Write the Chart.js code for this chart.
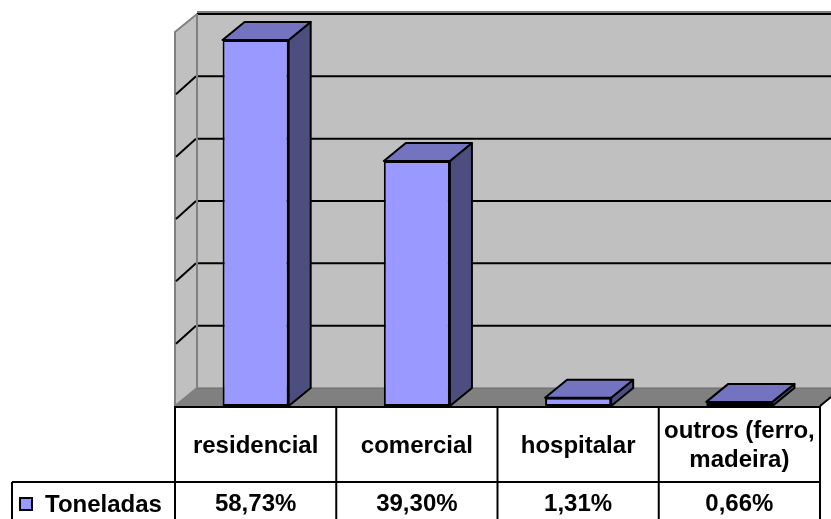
<!DOCTYPE html>
<html>
<head>
<meta charset="utf-8">
<script src="https://cdn.jsdelivr.net/npm/chart.js@4.4.1/dist/chart.umd.min.js"></script>
<style>
  html, body { margin: 0; padding: 0; background: #fff; }
  #wrap { width: 831px; height: 519px; }
</style>
</head>
<body>
<div id="wrap"><canvas id="myChart"></canvas></div>
<script>
// data
var categories = [["residencial"], ["comercial"], ["hospitalar"], ["outros (ferro,", "madeira)"]];
var toneladas = [58.73, 39.30, 1.31, 0.66];
var seriesName = "Toneladas";
var yMin = 0, yMax = 60, yStep = 10;

// 3d look
var depthX = 22, depthY = -18;
var barColor = "#9999ff", topColor = "#7373bf", sideColor = "#4d4d80";
var font = "bold 24px 'Liberation Sans', Arial, sans-serif";

function pct(v) {
    return v.toFixed(2).replace(".", ",") + "%";
}

var walls = {
    id: "walls",
    beforeDatasetsDraw: function (chart) {
        var ctx = chart.ctx, a = chart.chartArea, ys = chart.scales.y;
        var W = chart.width;
        var base = ys.getPixelForValue(yMin), top = ys.getPixelForValue(yMax);
        ctx.save();
        // back wall
        ctx.fillStyle = "#c0c0c0";
        ctx.fillRect(a.left + depthX, top + depthY, W - a.left - depthX, base - top);
        // left wall
        ctx.beginPath();
        ctx.moveTo(a.left, top);
        ctx.lineTo(a.left + depthX, top + depthY);
        ctx.lineTo(a.left + depthX, base + depthY);
        ctx.lineTo(a.left, base);
        ctx.closePath();
        ctx.fill();
        ctx.strokeStyle = "#808080";
        ctx.lineWidth = 2;
        ctx.stroke();
        // floor
        ctx.beginPath();
        ctx.moveTo(a.left, base);
        ctx.lineTo(a.left + depthX, base + depthY);
        ctx.lineTo(a.right + depthX, base + depthY);
        ctx.lineTo(a.right, base);
        ctx.closePath();
        ctx.fillStyle = "#808080";
        ctx.fill();
        ctx.strokeStyle = "#6a6a6a";
        ctx.lineWidth = 1;
        ctx.beginPath();
        ctx.moveTo(a.left + depthX, base + depthY);
        ctx.lineTo(W, base + depthY);
        ctx.stroke();
        ctx.strokeStyle = "#000";
        ctx.lineWidth = 2;
        ctx.beginPath();
        ctx.moveTo(a.right, base);
        ctx.lineTo(a.right + depthX, base + depthY);
        ctx.stroke();
        // top edge of back wall
        ctx.strokeStyle = "#808080";
        ctx.beginPath();
        ctx.moveTo(a.left + depthX, top + depthY - 2);
        ctx.lineTo(W, top + depthY - 2);
        ctx.stroke();
        // grid lines
        ctx.strokeStyle = "#000";
        ctx.lineWidth = 2;
        for (var v = yMin + yStep; v <= yMax; v += yStep) {
            var y = ys.getPixelForValue(v);
            ctx.beginPath();
            ctx.moveTo(a.left + depthX, y + depthY);
            ctx.lineTo(W, y + depthY);
            ctx.stroke();
            if (v < yMax) {
                ctx.beginPath();
                ctx.moveTo(a.left + 1, y);
                ctx.lineTo(a.left + depthX - 1, y + depthY);
                ctx.stroke();
            }
        }
        // wall edges
        ctx.strokeStyle = "#808080";
        ctx.beginPath();
        ctx.moveTo(a.left + depthX, top + depthY);
        ctx.lineTo(a.left + depthX, base + depthY);
        ctx.stroke();
        ctx.restore();
    },
    afterDatasetsDraw: function (chart) {
        var ctx = chart.ctx;
        ctx.save();
        ctx.lineWidth = 2;
        ctx.lineJoin = "round";
        ctx.strokeStyle = "#000";
        chart.getDatasetMeta(0).data.forEach(function (bar) {
            var l = bar.x - bar.width / 2, r = bar.x + bar.width / 2;
            var t = bar.y, b = bar.base;
            ctx.beginPath();
            ctx.moveTo(r, t);
            ctx.lineTo(r + depthX, t + depthY);
            ctx.lineTo(r + depthX, b + depthY);
            ctx.lineTo(r, b);
            ctx.closePath();
            ctx.fillStyle = sideColor;
            ctx.fill();
            ctx.stroke();
            ctx.beginPath();
            ctx.moveTo(l, t);
            ctx.lineTo(l + depthX, t + depthY);
            ctx.lineTo(r + depthX, t + depthY);
            ctx.lineTo(r, t);
            ctx.closePath();
            ctx.fillStyle = topColor;
            ctx.fill();
            ctx.stroke();
        });
        ctx.restore();
    },
    afterDraw: function (chart) {
        // data table under the plot
        var ctx = chart.ctx, a = chart.chartArea;
        var H = chart.height;
        var row1 = 407, row2 = 482, legendLeft = 12;
        var colW = (a.right - a.left) / categories.length;
        ctx.save();
        ctx.strokeStyle = "#000";
        ctx.lineWidth = 2;
        ctx.beginPath();
        ctx.moveTo(a.left, row1); ctx.lineTo(a.right + 1, row1);
        ctx.moveTo(legendLeft, row2); ctx.lineTo(a.right + 1, row2);
        ctx.moveTo(legendLeft, row2); ctx.lineTo(legendLeft, H);
        for (var i = 0; i <= categories.length; i++) {
            var x = a.left + i * colW;
            ctx.moveTo(x, row1 - 1); ctx.lineTo(x, H);
        }
        ctx.stroke();

        ctx.fillStyle = "#000";
        ctx.font = font;
        ctx.textAlign = "center";
        ctx.textBaseline = "alphabetic";
        categories.forEach(function (lines, i) {
            var cx = a.left + (i + 0.5) * colW;
            if (lines.length === 1) {
                ctx.fillText(lines[0], cx, 453);
            } else {
                ctx.fillText(lines[0], cx, 438);
                ctx.fillText(lines[1], cx, 467);
            }
            ctx.fillText(pct(toneladas[i]), cx, 511);
        });
        // legend key
        ctx.textAlign = "left";
        ctx.fillText(seriesName, 45, 512);
        ctx.fillStyle = barColor;
        ctx.fillRect(20, 498, 12, 12);
        ctx.strokeRect(20, 498, 12, 12);
        ctx.restore();
    }
};

var ctx = document.getElementById("myChart").getContext("2d");
var myChart = new Chart(ctx, {
    type: "bar",
    data: {
        labels: categories.map(function (c) { return c.join(" "); }),
        datasets: [{
            label: seriesName,
            data: toneladas,
            backgroundColor: barColor,
            borderColor: "#000",
            borderWidth: 2,
            borderSkipped: false,
            categoryPercentage: 1,
            barPercentage: 0.41
        }]
    },
    options: {
        responsive: true,
        maintainAspectRatio: false,
        devicePixelRatio: 1,
        animation: false,
        events: [],
        layout: { padding: { left: 175, right: 11, top: 32, bottom: 113 } },
        plugins: { legend: { display: false }, tooltip: { enabled: false } },
        scales: {
            x: { display: false },
            y: { display: false, min: yMin, max: yMax, ticks: { stepSize: yStep } }
        }
    },
    plugins: [walls]
});
</script>
</body>
</html>
